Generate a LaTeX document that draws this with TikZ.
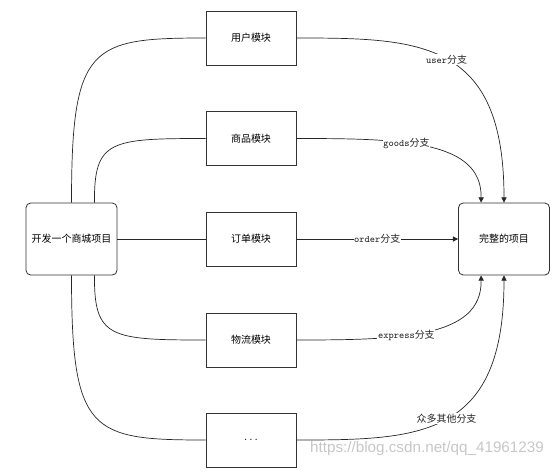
\documentclass[tikz,border=0pt]{standalone}
\usepackage{fontspec}
\setmainfont{Noto Sans CJK SC}
\newfontfamily\markfont{Liberation Sans}
\usetikzlibrary{arrows.meta,calc}

\begin{document}
\begin{tikzpicture}[
  x=0.03cm, y=-0.03cm,
  font=\fontsize{8.5}{10}\selectfont,
  endbox/.style={draw=black!80, line width=0.7pt, rounded corners=4pt, minimum width=2.73cm, minimum height=2.16cm, inner sep=1pt},
  modbox/.style={draw=black!80, line width=0.7pt, minimum width=2.7cm, minimum height=1.62cm, inner sep=1pt},
  link/.style={line width=0.6pt, black!85},
  merge/.style={link, -{Triangle[length=4.5pt,width=4.5pt]}},
  lbl/.style={fill=white, inner sep=0.6pt}
]
\useasboundingbox (0,0) rectangle (558,474);

% start, modules, result
\node[endbox] (start) at (71.5,239) {开发一个商城项目};
\node[modbox] (user)    at (251,38)    {用户模块};
\node[modbox] (goods)   at (251,138.5) {商品模块};
\node[modbox] (order)   at (251,239)   {订单模块};
\node[modbox] (express) at (251,340)   {物流模块};
\node[modbox] (more)    at (251,440)   {\ttfamily ...};
\node[endbox] (result) at (504,239) {完整的项目};

% development
\draw[link] (start.north) .. controls (71.5,45) and (90,38) .. (user.west);
\draw[link] ($(start.north)!0.5!(start.north east)$) .. controls (94,140) and (110,138.5) .. (goods.west);
\draw[link] (start.east) -- (order.west);
\draw[link] ($(start.south)!0.5!(start.south east)$) .. controls (94,338) and (110,340) .. (express.west);
\draw[link] (start.south) .. controls (71.5,433) and (90,440) .. (more.west);

% merging branches
\draw[merge] (user.east) .. controls (420,38) and (504,40) .. node[lbl, pos=0.5] {{\ttfamily user}分支} (result.north);
\draw[merge] (goods.east) .. controls (400,138.5) and (482,140) .. node[lbl, pos=0.4] {{\ttfamily goods}分支} ($(result.north)!0.5!(result.north west)$);
\draw[merge] (order.east) -- node[lbl] {{\ttfamily order}分支} (result.west);
\draw[merge] (express.east) .. controls (400,340) and (482,338) .. node[lbl, pos=0.4] {{\ttfamily express}分支} ($(result.south)!0.5!(result.south west)$);
\draw[merge] (more.east) .. controls (420,440) and (504,438) .. node[lbl, pos=0.5] {众多其他分支} (result.south);

\node[text=black!22, font=\markfont\fontsize{13}{15}\selectfont] (mark) at (427,449) {https://blog.csdn.net/qq\_41961239};
\end{tikzpicture}
\end{document}
